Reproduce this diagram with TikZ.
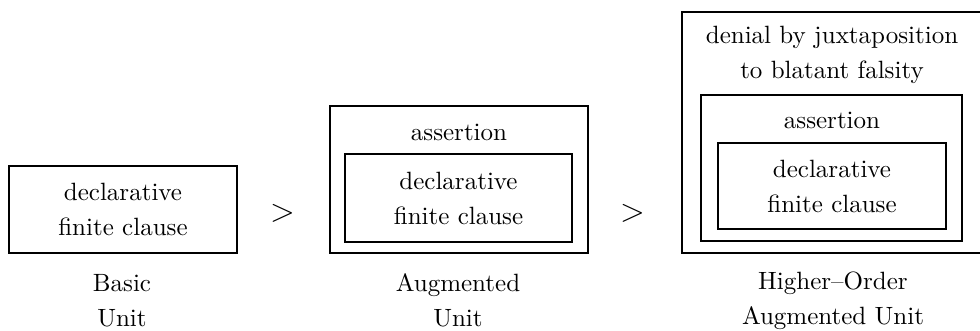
\documentclass[tikz,border=0pt]{standalone}
\usetikzlibrary{positioning}
\begin{document}
\begin{tikzpicture}[x=0.4pt, y=0.4pt,
                unitbox/.style = {draw, line width=0.6pt, inner sep=0pt},
                txt/.style = {align=center, font=\fontsize{10}{14}\selectfont},
                gt/.style = {font=\sffamily\fontsize{13}{14}\selectfont}]
                \useasboundingbox (0,0) rectangle (980,331);
                \clip (0,0) rectangle (980,331);

                % basic unit
                \node[unitbox, txt] (1) [minimum width=91.2pt, minimum height=34.8pt] at (123,121.5) {declarative\\finite clause};
                \node[txt] (l1) at (122,30.5) {Basic\\Unit};

                \node[gt] (g1) at (282.5,118) {>};

                % augmented unit
                \node[unitbox, txt] (2) [minimum width=90.8pt, minimum height=35.2pt] at (458.5,133) {declarative\\finite clause};
                \node[unitbox] (3) [minimum width=103.2pt, minimum height=58.8pt] at (459,151.5) {};
                \node[txt] (a2) at (459,199) {assertion};
                \node[txt] (l2) at (458,30.5) {Augmented\\Unit};

                \node[gt] (g2) at (632.5,118) {>};

                % higher-order augmented unit
                \node[unitbox, txt] (4) [minimum width=91.2pt, minimum height=34.4pt] at (832,145) {declarative\\finite clause};
                \node[unitbox] (5) [minimum width=104.4pt, minimum height=58.4pt] at (831.5,163) {};
                \node[txt] (a3) at (832,211) {assertion};
                \node[unitbox] (6) [minimum width=160pt, minimum height=96.4pt, anchor=west] at (681,198.5) {};
                \node[txt] (d3) at (832,276.5) {denial by juxtaposition\\to blatant falsity};
                \node[txt] (l3) at (833,30.5) {Higher--Order\\Augmented Unit};

\end{tikzpicture}
\end{document}
